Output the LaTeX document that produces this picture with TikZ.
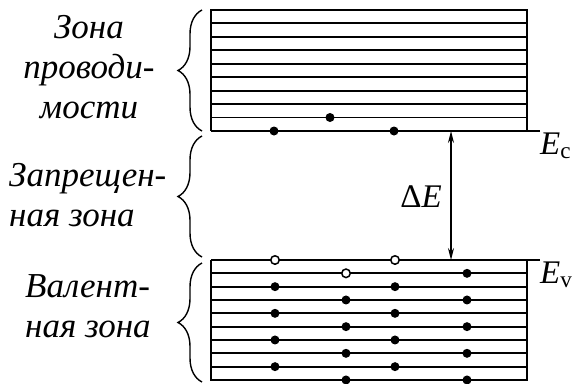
\documentclass[tikz,border=0pt]{standalone}
\usepackage{fontspec}
\setmainfont{Liberation Serif}
\usetikzlibrary{decorations.pathreplacing,arrows.meta}

\begin{document}
\begin{tikzpicture}[
  x=1pt,y=-1pt,
  level/.style={line width=1.9pt},
  zbrace/.style={decorate,decoration={brace,amplitude=24pt},line width=1.4pt},
  elec/.style={circle,fill=black,inner sep=0pt,minimum size=9pt},
  hole/.style={circle,draw=black,fill=white,line width=1.5pt,inner sep=0pt,minimum size=8.5pt},
  lbl/.style={font=\fontsize{35}{40}\selectfont\itshape,inner sep=0pt},
  sym/.style={font=\fontsize{33}{36}\selectfont,inner sep=0pt},
  arr/.style={{Stealth[length=12pt,width=6pt]}-{Stealth[length=12pt,width=6pt]},line width=1.4pt}
]
\useasboundingbox (0,0) rectangle (573,383);
% conduction band
\draw[level] (211,131) -- (211,10) -- (527,10) -- (527,131);
\foreach \i in {1,...,8}{
  \draw[level] (211,{10+13.44*\i}) -- (527,{10+13.44*\i});
}
\coordinate (cl) at (211,131);
\coordinate (cr) at (540,131);
\draw[level] (cl) -- (cr);
\node[elec] (c1) at (274,131) {};
\node[elec] (c2) at (394,131) {};
\node[elec] (c3) at (330,117.5) {};
% valence band
\draw[level] (211,260) -- (211,380) -- (527,380) -- (527,260);
\foreach \i in {1,...,8}{
  \draw[level] (211,{260+13.33*\i}) -- (527,{260+13.33*\i});
}
\coordinate (vl) at (211,260);
\coordinate (vr) at (540,260);
\draw[level] (vl) -- (vr);
\foreach \i in {2,4,6,8}{
  \node[elec] (va\i) at (275,{260+13.33*\i}) {};
  \node[elec] (vb\i) at (395,{260+13.33*\i}) {};
}
\foreach \i in {1,3,5,7,9}{
  \node[elec] (vd\i) at (467,{260+13.33*\i}) {};
}
\foreach \i in {3,5,7,9}{
  \node[elec] (vc\i) at (346,{260+13.33*\i}) {};
}
\node[hole] (h1) at (275,260) {};
\node[hole] (h2) at (395,260) {};
\node[hole] (h3) at (346,273.3) {};
% gap
\coordinate (gc) at (451,131);
\coordinate (gv) at (451,260);
\draw[arr] (gc) -- (gv);
\node[sym,anchor=base east] (dE) at (442,207) {Δ\textit{E}};
\node[sym,anchor=north west] (Ec) at (540,133) {\textit{E}\textsubscript{c}};
\node[sym,anchor=north west] (Ev) at (540,262) {\textit{E}\textsubscript{v}};
% braces and labels
\draw[zbrace] (202,131) -- (202,10);
\draw[zbrace] (202,257) -- (202,136);
\draw[zbrace] (202,382) -- (202,263);
\node[lbl,align=center,anchor=north] (cb) at (89,15) {Зона\\проводи-\\мости};
\node[lbl,align=left,anchor=north west] (fz) at (9,163) {Запрещен-\\ная зона};
\node[lbl,align=left,anchor=north west] (vb) at (25,274) {Валент-\\ная зона};
\end{tikzpicture}
\end{document}
